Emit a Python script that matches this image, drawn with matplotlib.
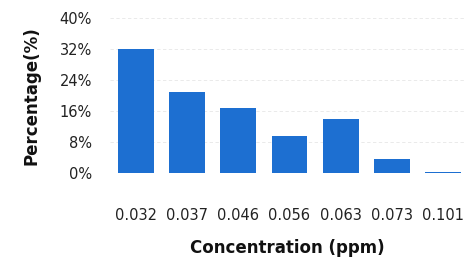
import matplotlib
matplotlib.use("Agg")
import matplotlib.pyplot as plt

# ---------------------------------------
# Data
# ---------------------------------------
concentrations = ["0.032", "0.037", "0.046", "0.056", "0.063", "0.073", "0.101"]
percentages = [32.1, 21.0, 16.7, 9.6, 13.9, 3.6, 0.3]
y_ticks = [0, 8, 16, 24, 32, 40]

plt.rcParams["font.family"] = ["DejaVu Sans"]

fig = plt.figure(figsize=(4.67, 2.61), dpi=100)
ax = fig.add_axes([0.2355, 0.337, 0.76, 0.594])

x = range(len(concentrations))
ax.bar(x, percentages, width=0.7, color="#1d6fd1", zorder=3)

ax.set_xlim(-0.5, 6.42)
ax.set_ylim(0, 40)
ax.set_yticks(y_ticks)
ax.set_yticklabels([f"{v}%" for v in y_ticks])
ax.set_xticks(list(x))
ax.set_xticklabels(concentrations)

ax.grid(axis="y", color="#e6e6e6", linestyle=(0, (4, 3)), linewidth=0.6, zorder=0)
for s in ax.spines.values():
    s.set_visible(False)
ax.tick_params(axis="both", length=0, labelsize=10.5, colors="#222222")
ax.tick_params(axis="x", pad=25)
ax.tick_params(axis="y", pad=13)

ax.set_xlabel("Concentration (ppm)", fontsize=12, fontweight="bold", labelpad=12, color="#111111")
ax.set_ylabel("Percentage(%)", fontsize=12, fontweight="bold", labelpad=14, color="#111111")

fig.savefig("out.png", dpi=100)
